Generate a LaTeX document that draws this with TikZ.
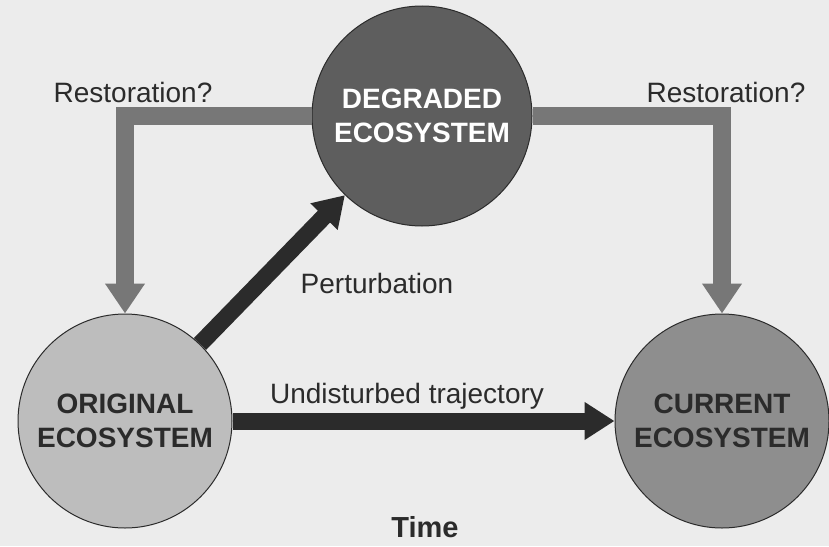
\documentclass[tikz,border=0pt]{standalone}
\usepackage{fontspec}
\setmainfont{Liberation Sans}
\usetikzlibrary{positioning,arrows.meta}
\definecolor{paper}{HTML}{ECECEC}
\definecolor{inkdark}{HTML}{2B2B2B}
\definecolor{shade1}{HTML}{5E5E5E}
\definecolor{shade2}{HTML}{BDBDBD}
\definecolor{shade3}{HTML}{8E8E8E}
\definecolor{barmid}{HTML}{777777}

\begin{document}
\begin{tikzpicture}[x=1pt,y=-1pt,
  eco/.style={circle, draw=inkdark, line width=1pt, inner sep=0pt, align=center, font=\fontsize{28}{34}\selectfont\bfseries},
  restore/.style={draw=barmid, line width=18pt, line join=miter, -{Triangle[width=38pt,length=30pt]}},
  change/.style={draw=inkdark, line width=17pt, -{Triangle[width=36pt,length=30pt]}},
  lbl/.style={anchor=base, inner sep=0pt, text=inkdark, font=\fontsize{28}{34}\selectfont}]
\fill[paper] (0,0) rectangle (829,546);
\useasboundingbox (0,0) rectangle (829,546);
\node[eco, fill=shade1, text=white, minimum size=220pt] (degraded) at (422,116) {DEGRADED\\ECOSYSTEM};
\node[eco, fill=shade2, text=inkdark, minimum size=214pt] (original) at (125,421) {ORIGINAL\\ECOSYSTEM};
\node[eco, fill=shade3, text=inkdark, minimum size=214pt] (current) at (722,421) {CURRENT\\ECOSYSTEM};
\draw[restore] (degraded.west) -| (original.north);
\draw[restore] (degraded.east) -| (current.north);
\draw[change] (original) -- (degraded);
\draw[change] (original.east) -- (current.west);
\node[lbl] (restoreleft) at (133,102) {Restoration?};
\node[lbl] (restoreright) at (726,102) {Restoration?};
\node[lbl] (perturb) at (377,293) {Perturbation};
\node[lbl] (undisturbed) at (407,403) {Undisturbed trajectory};
\node[lbl, font=\fontsize{29}{34}\selectfont\bfseries] (time) at (425,537) {Time};
\end{tikzpicture}
\end{document}
